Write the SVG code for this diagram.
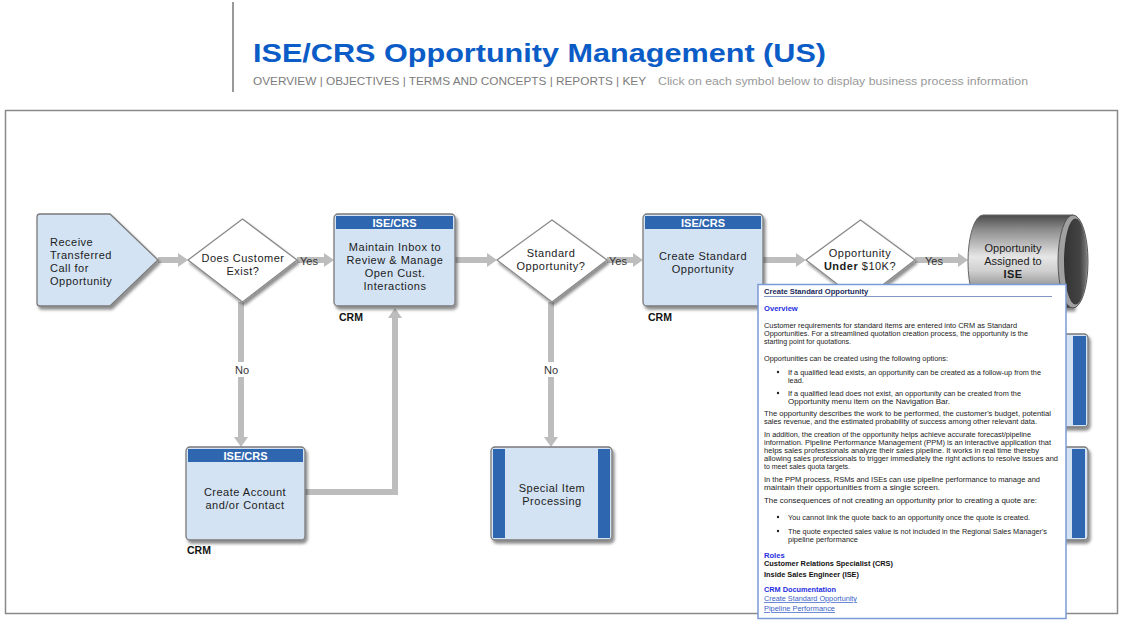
<svg xmlns="http://www.w3.org/2000/svg" width="1125" height="622" viewBox="0 0 1125 622">
<defs>
<style>
.t{font-family:"Liberation Sans",Arial,sans-serif;fill:#1c1c1c;font-size:11px;letter-spacing:0.5px}
.tm{text-anchor:middle}
.hd{font-family:"Liberation Sans",Arial,sans-serif;fill:#fff;font-size:11px;font-weight:bold;text-anchor:middle}
.crm{font-family:"Liberation Sans",Arial,sans-serif;fill:#111;font-size:10.5px;font-weight:bold}
.box{fill:#d3e3f3;stroke:#7a7a7a;stroke-width:1.3}
.dia{fill:#fff;stroke:#8a8a8a;stroke-width:1.3;stroke-linejoin:round}
.bar{fill:#2e66b0}
.con{stroke:#bdbdbd;stroke-width:6;fill:none}
.lbl{font-family:"Liberation Sans",Arial,sans-serif;fill:#333;font-size:11px}
.p{font-family:"Liberation Sans",Arial,sans-serif;fill:#222;font-size:7.3px}
.pb{font-family:"Liberation Sans",Arial,sans-serif;font-size:7.6px;font-weight:bold}
.lnk{font-family:"Liberation Sans",Arial,sans-serif;fill:#3a5fc8;font-size:7.3px;text-decoration:underline}
</style>
<filter id="sh" x="-10%" y="-10%" width="130%" height="130%">
<feDropShadow dx="2" dy="3" stdDeviation="1.5" flood-color="#000" flood-opacity="0.45"/>
</filter>
<marker id="ah" viewBox="0 0 10 14" refX="0" refY="7" markerWidth="10" markerHeight="14" markerUnits="userSpaceOnUse" orient="auto">
<path d="M0,0 L10,7 L0,14 Z" fill="#bdbdbd"/>
</marker>
<linearGradient id="cyl" x1="0" y1="0" x2="0" y2="1">
<stop offset="0" stop-color="#4a4a4a"/>
<stop offset="0.15" stop-color="#8a8a8a"/>
<stop offset="0.45" stop-color="#e6e6e6"/>
<stop offset="0.6" stop-color="#d0d0d0"/>
<stop offset="0.85" stop-color="#7a7a7a"/>
<stop offset="1" stop-color="#3a3a3a"/>
</linearGradient>
<linearGradient id="cylin" x1="0" y1="0" x2="1" y2="0">
<stop offset="0" stop-color="#333"/>
<stop offset="0.7" stop-color="#444"/>
<stop offset="1" stop-color="#7a7a7a"/>
</linearGradient>
</defs>
<rect width="1125" height="622" fill="#fff"/>

<g id="header">
<line x1="233" y1="2" x2="233" y2="92" stroke="#555" stroke-width="1.2"/>
<text x="253" y="62" font-family="'Liberation Sans',Arial,sans-serif" font-size="26" font-weight="bold" fill="#0b5cc6" textLength="573" lengthAdjust="spacingAndGlyphs">ISE/CRS Opportunity Management (US)</text>
<text x="253" y="85" font-family="'Liberation Sans',Arial,sans-serif" font-size="11" fill="#7c7c7c" textLength="393" lengthAdjust="spacingAndGlyphs">OVERVIEW | OBJECTIVES | TERMS AND CONCEPTS | REPORTS | KEY</text>
<text x="658" y="85" font-family="'Liberation Sans',Arial,sans-serif" font-size="11" fill="#999" textLength="370" lengthAdjust="spacingAndGlyphs">Click on each symbol below to display business process information</text>
</g>

<rect id="frame" x="5.5" y="110.5" width="1112" height="503" fill="none" stroke="#8a8a8a" stroke-width="1.5"/>

<g id="connectors">
<line class="con" x1="158" y1="260" x2="178" y2="260" marker-end="url(#ah)"/>
<line class="con" x1="297" y1="260" x2="324" y2="260" marker-end="url(#ah)"/>
<line class="con" x1="455" y1="260" x2="487" y2="260" marker-end="url(#ah)"/>
<line class="con" x1="607" y1="260" x2="633" y2="260" marker-end="url(#ah)"/>
<line class="con" x1="763" y1="260" x2="796" y2="260" marker-end="url(#ah)"/>
<line class="con" x1="915" y1="260" x2="958" y2="260" marker-end="url(#ah)"/>
<line class="con" x1="241" y1="302" x2="241" y2="437" marker-end="url(#ah)"/>
<line class="con" x1="551" y1="302" x2="551" y2="437" marker-end="url(#ah)"/>
<polyline class="con" points="305,492 395,492 395,318" marker-end="url(#ah)"/>
<rect x="232" y="362" width="20" height="15" fill="#fff"/>
<rect x="542" y="362" width="20" height="15" fill="#fff"/>
<text class="lbl" x="300" y="265">Yes</text>
<text class="lbl" x="609" y="265">Yes</text>
<text class="lbl" x="925" y="265">Yes</text>
<text class="lbl tm" x="242" y="374">No</text>
<text class="lbl tm" x="551" y="374">No</text>
</g>

<g id="n-receive">
<path d="M40,214 L110,214 L158,260 L110,306 L40,306 Q37,306 37,303 L37,217 Q37,214 40,214 Z" class="box" filter="url(#sh)"/>
<text class="t" x="50" y="246">Receive</text>
<text class="t" x="50" y="259">Transferred</text>
<text class="t" x="50" y="272">Call for</text>
<text class="t" x="50" y="285">Opportunity</text>
</g>

<g id="n-customer-exist">
<polygon class="dia" points="242.5,219 297,260 242.5,302 188,260" filter="url(#sh)"/>
<text class="t tm" x="243" y="262">Does Customer</text>
<text class="t tm" x="243" y="275">Exist?</text>
</g>

<g id="n-maintain">
<rect class="box" x="334" y="214" width="121" height="92" rx="4" filter="url(#sh)"/>
<rect class="bar" x="336" y="216" width="117" height="13"/>
<text class="hd" x="394.5" y="227">ISE/CRS</text>
<text class="t tm" x="395" y="251">Maintain Inbox to</text>
<text class="t tm" x="395" y="264">Review &amp; Manage</text>
<text class="t tm" x="395" y="277">Open Cust.</text>
<text class="t tm" x="395" y="290">Interactions</text>
<text class="crm" x="339" y="321">CRM</text>
</g>

<g id="n-standard">
<polygon class="dia" points="552,220 607,260 552,302 497,260" filter="url(#sh)"/>
<text class="t tm" x="551" y="257">Standard</text>
<text class="t tm" x="551" y="270">Opportunity?</text>
</g>

<g id="n-create-std">
<rect class="box" x="643" y="214" width="120" height="92" rx="4" filter="url(#sh)"/>
<rect class="bar" x="645" y="216" width="116" height="13"/>
<text class="hd" x="703" y="227">ISE/CRS</text>
<text class="t tm" x="703" y="260">Create Standard</text>
<text class="t tm" x="703" y="273">Opportunity</text>
<text class="crm" x="648" y="321">CRM</text>
</g>

<g id="n-under10k">
<polygon class="dia" points="860.5,220 915,260 860.5,302 806,260" filter="url(#sh)"/>
<text class="t tm" x="860" y="257">Opportunity</text>
<text class="t tm" x="860" y="270"><tspan font-weight="bold">Under</tspan> $10K?</text>
</g>

<g id="n-assigned">
<path d="M983,215 L1073,215 L1073,308 L983,308 A15,46.5 0 0 1 983,215 Z" fill="url(#cyl)" stroke="#666" stroke-width="1" filter="url(#sh)"/>
<ellipse cx="1073" cy="261.5" rx="15" ry="46.5" fill="#a0a0a0" stroke="#555" stroke-width="1"/>
<ellipse cx="1075.5" cy="261.5" rx="11.5" ry="43" fill="url(#cylin)"/>
<text class="t tm" x="1013" y="252" style="letter-spacing:0">Opportunity</text>
<text class="t tm" x="1013" y="265" style="letter-spacing:0">Assigned to</text>
<text class="t tm" x="1013" y="278" font-weight="bold">ISE</text>
</g>

<g id="n-create-account">
<rect class="box" x="186" y="447" width="119" height="93" rx="4" filter="url(#sh)"/>
<rect class="bar" x="188" y="449" width="115" height="13"/>
<text class="hd" x="245.5" y="460">ISE/CRS</text>
<text class="t tm" x="245" y="496">Create Account</text>
<text class="t tm" x="245" y="509">and/or Contact</text>
<text class="crm" x="187" y="554">CRM</text>
</g>

<g id="n-special">
<rect class="box" x="491" y="447" width="121" height="93" rx="4" filter="url(#sh)"/>
<rect class="bar" x="493" y="449" width="12" height="89"/>
<rect class="bar" x="598" y="449" width="12" height="89"/>
<text class="t tm" x="552" y="492">Special Item</text>
<text class="t tm" x="552" y="505">Processing</text>
</g>

<g id="n-right-1">
<rect class="box" x="968" y="334" width="120" height="93" rx="4" filter="url(#sh)"/>
<rect class="bar" x="970" y="336" width="12" height="89"/>
<rect class="bar" x="1073" y="336" width="13" height="89"/>
</g>

<g id="n-right-2">
<rect class="box" x="968" y="447" width="120" height="93" rx="4" filter="url(#sh)"/>
<rect class="bar" x="970" y="449" width="12" height="89"/>
<rect class="bar" x="1072" y="449" width="13" height="89"/>
</g>

<g id="popup">
<rect x="758" y="284.5" width="308" height="334" fill="#fff" stroke="#7a9bd6" stroke-width="1.5"/>
<text class="pb" x="764" y="294" fill="#1a2a5a">Create Standard Opportunity</text>
<line x1="764" y1="296.5" x2="1052" y2="296.5" stroke="#7f97c2" stroke-width="1"/>
<text class="pb" x="764" y="311" fill="#1f2fe0">Overview</text>
<text class="p" x="764" y="328" textLength="253" lengthAdjust="spacingAndGlyphs">Customer requirements for standard items are entered into CRM as Standard</text>
<text class="p" x="764" y="336" textLength="264" lengthAdjust="spacingAndGlyphs">Opportunities. For a streamlined quotation creation process, the opportunity is the</text>
<text class="p" x="764" y="344" textLength="87" lengthAdjust="spacingAndGlyphs">starting point for quotations.</text>
<text class="p" x="764" y="361" textLength="184" lengthAdjust="spacingAndGlyphs">Opportunities can be created using the following options:</text>
<circle cx="778" cy="372" r="1.2" fill="#222"/>
<text class="p" x="788" y="374.5" textLength="253" lengthAdjust="spacingAndGlyphs">If a qualified lead exists, an opportunity can be created as a follow-up from the</text>
<text class="p" x="788" y="382.5">lead.</text>
<circle cx="778" cy="393" r="1.2" fill="#222"/>
<text class="p" x="788" y="395.5" textLength="233" lengthAdjust="spacingAndGlyphs">If a qualified lead does not exist, an opportunity can be created from the</text>
<text class="p" x="788" y="403.5" textLength="162" lengthAdjust="spacingAndGlyphs">Opportunity menu item on the Navigation Bar.</text>
<text class="p" x="764" y="416" textLength="287" lengthAdjust="spacingAndGlyphs">The opportunity describes the work to be performed, the customer's budget, potential</text>
<text class="p" x="764" y="424" textLength="273" lengthAdjust="spacingAndGlyphs">sales revenue, and the estimated probability of success among other relevant data.</text>
<text class="p" x="764" y="437" textLength="267" lengthAdjust="spacingAndGlyphs">In addition, the creation of the opportunity helps achieve accurate forecast/pipeline</text>
<text class="p" x="764" y="445" textLength="287" lengthAdjust="spacingAndGlyphs">information. Pipeline Performance Management (PPM) is an interactive application that</text>
<text class="p" x="764" y="453" textLength="275" lengthAdjust="spacingAndGlyphs">helps sales professionals analyze their sales pipeline. It works in real time thereby</text>
<text class="p" x="764" y="461" textLength="294" lengthAdjust="spacingAndGlyphs">allowing sales professionals to trigger immediately the right actions to resolve issues and</text>
<text class="p" x="764" y="469" textLength="86" lengthAdjust="spacingAndGlyphs">to meet sales quota targets.</text>
<text class="p" x="764" y="482" textLength="276" lengthAdjust="spacingAndGlyphs">In the PPM process, RSMs and ISEs can use pipeline performance to manage and</text>
<text class="p" x="764" y="490" textLength="176" lengthAdjust="spacingAndGlyphs">maintain their opportunities  from a single screen.</text>
<text class="p" x="764" y="503" textLength="273" lengthAdjust="spacingAndGlyphs">The consequences of not creating an opportunity prior to creating a quote are:</text>
<circle cx="778" cy="517" r="1.2" fill="#222"/>
<text class="p" x="788" y="519.5" textLength="242" lengthAdjust="spacingAndGlyphs">You cannot link the quote back to an opportunity once the quote is created.</text>
<circle cx="778" cy="531" r="1.2" fill="#222"/>
<text class="p" x="788" y="533.5" textLength="259" lengthAdjust="spacingAndGlyphs">The quote expected sales value is not included in the Regional Sales Manager's</text>
<text class="p" x="788" y="541.5" textLength="70" lengthAdjust="spacingAndGlyphs">pipeline performance</text>
<text class="pb" x="764" y="558" fill="#1f2fe0">Roles</text>
<text class="pb" x="764" y="566" fill="#111" textLength="129" lengthAdjust="spacingAndGlyphs">Customer Relations Specialist (CRS)</text>
<text class="pb" x="764" y="577" fill="#111" textLength="95" lengthAdjust="spacingAndGlyphs">Inside Sales Engineer (ISE)</text>
<text class="pb" x="764" y="592" fill="#1f2fe0" textLength="72" lengthAdjust="spacingAndGlyphs">CRM Documentation</text>
<text class="lnk" x="764" y="601" textLength="93" lengthAdjust="spacingAndGlyphs">Create Standard Opportunity</text>
<text class="lnk" x="764" y="611" textLength="71" lengthAdjust="spacingAndGlyphs">Pipeline Performance</text>
</g>
</svg>
